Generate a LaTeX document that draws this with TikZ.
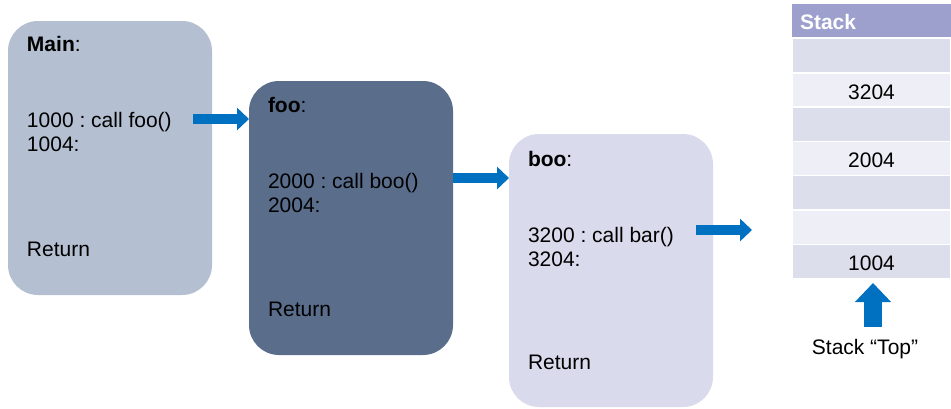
\documentclass[tikz,border=0pt]{standalone}
\usepackage{fontspec}
\setmainfont{Liberation Sans}
\usetikzlibrary{arrows.meta}
\frenchspacing
\definecolor{mainc}{HTML}{B4BFD1}
\definecolor{fooc}{HTML}{5A6E8C}
\definecolor{booc}{HTML}{D9DAEC}
\definecolor{arrc}{HTML}{0070C0}
\definecolor{headc}{HTML}{9DA0CC}
\definecolor{rowdark}{HTML}{DCDEEB}
\definecolor{rowlight}{HTML}{EEEFF6}
\begin{document}
\begin{tikzpicture}[x=1pt,y=-1pt,
  every node/.style={inner sep=0pt,outer sep=0pt,font=\fontsize{21}{25}\selectfont},
  funcbox/.style={rounded corners=30pt,minimum width=204pt,minimum height=274pt,anchor=north west},
  codetext/.style={anchor=base west,text=black},
  blockarrow/.style={draw=arrc,line width=10pt,-{Triangle[length=12pt,width=22pt,fill=arrc]}},
  stackrow/.style={draw=white,line width=1.5pt,minimum width=159pt,minimum height=34.3pt,anchor=north west},
  stacktext/.style={text=black,yshift=-2pt}]
\useasboundingbox (0,0) rectangle (951,408);
% function boxes
\node[funcbox,fill=mainc] (main) at (8,21) {};
\node[funcbox,fill=fooc] (foo) at (249,81) {};
\node[funcbox,fill=booc,minimum height=273pt] (boo) at (509,134) {};
% main text
\node[codetext] (mainT) at (27,51) {\textbf{Main}:};
\node[codetext] (mainA) at (27,127) {1000 : call foo()};
\node[codetext] (mainB) at (27,151) {1004:};
\node[codetext] (mainR) at (27,256) {Return};
% foo text
\node[codetext] (fooT) at (268,112) {\textbf{foo}:};
\node[codetext] (fooA) at (268,188) {2000 : call boo()};
\node[codetext] (fooB) at (268,212) {2004:};
\node[codetext] (fooR) at (268,316) {Return};
% boo text
\node[codetext] (booT) at (528,166) {\textbf{boo}:};
\node[codetext] (booA) at (528,242) {3200 : call bar()};
\node[codetext] (booB) at (528,266) {3204:};
\node[codetext] (booR) at (528,369) {Return};
% arrows
\coordinate (a1s) at (193,119);
\draw[blockarrow] (a1s) -- (main.east |- a1s) -- (foo.west |- a1s);
\coordinate (a2s) at (453,178);
\draw[blockarrow] (a2s) -- (boo.west |- a2s);
\coordinate (a3s) at (696,230);
\coordinate (a3e) at (752,230);
\draw[blockarrow] (a3s) -- (a3e);
% stack
\node[fill=headc,minimum width=159pt,minimum height=33pt,anchor=north west] (head) at (792,4) {};
\node[anchor=base west,text=white] (headT) at (800,29) {\textbf{Stack}};
\node[stackrow,fill=rowdark] (r1) at (792,38.5) {};
\node[stackrow,fill=rowlight] (r2) at (792,72.8) {};
\node[stackrow,fill=rowdark] (r3) at (792,107.1) {};
\node[stackrow,fill=rowlight] (r4) at (792,141.4) {};
\node[stackrow,fill=rowdark] (r5) at (792,175.7) {};
\node[stackrow,fill=rowlight] (r6) at (792,210.0) {};
\node[stackrow,fill=rowdark] (r7) at (792,244.3) {};
\node[stacktext] (t2) at (r2.center) {3204};
\node[stacktext] (t4) at (r4.center) {2004};
\node[stacktext] (t7) at (r7.center) {1004};
% stack top arrow
\node[anchor=base] (top) at (865,354) {Stack “Top”};
\coordinate (upS) at (873,327);
\coordinate (upE) at (873,283);
\draw[draw=arrc,line width=18pt,-{Triangle[length=19pt,width=35pt,fill=arrc]}] (upS) -- (upE);
\end{tikzpicture}
\end{document}
